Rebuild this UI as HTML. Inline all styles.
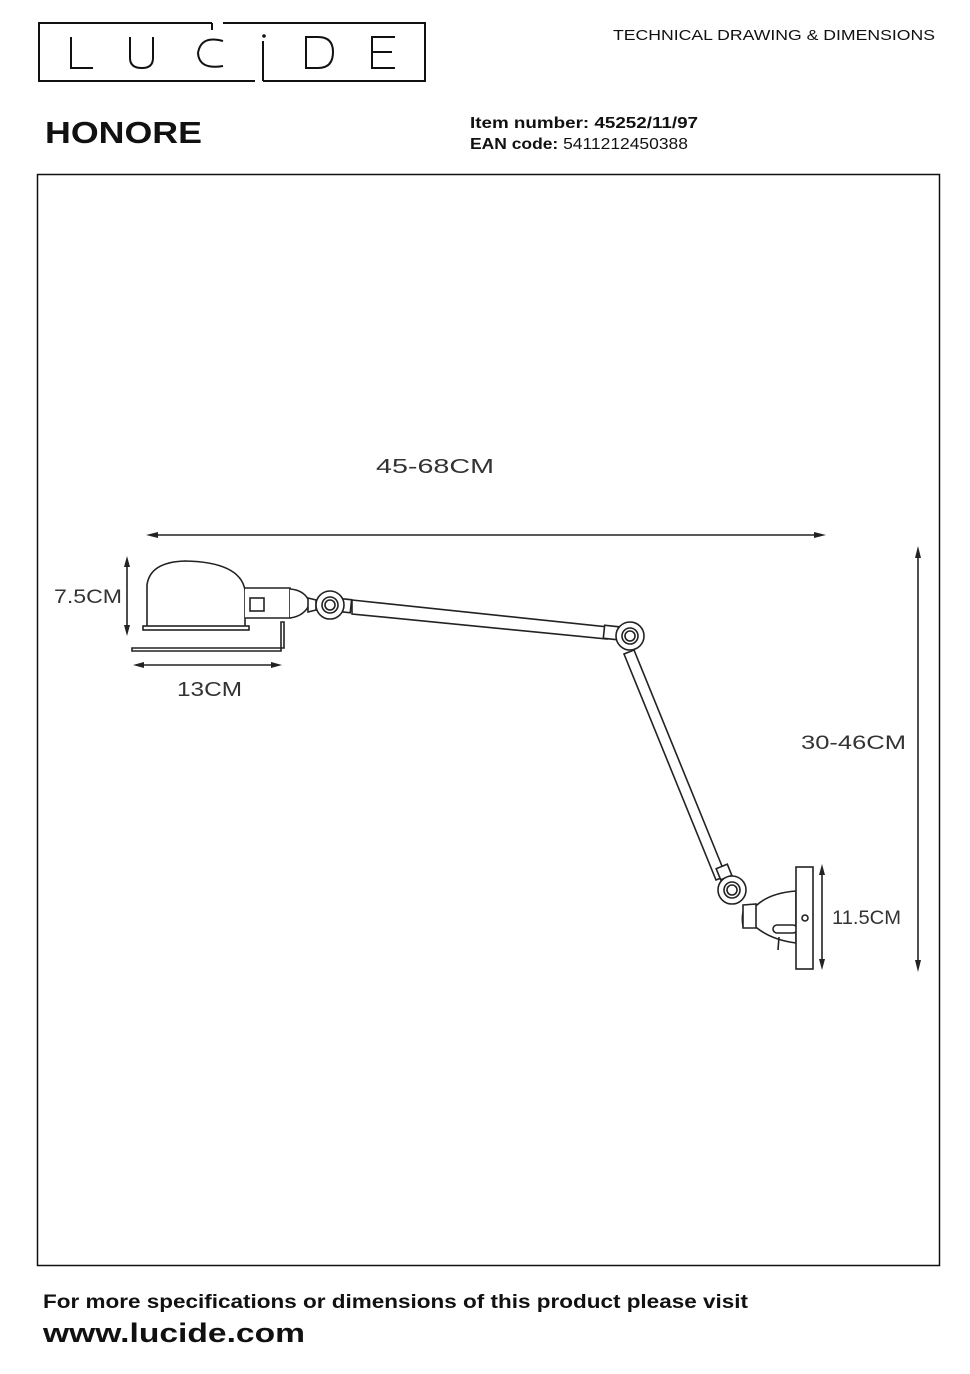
<!DOCTYPE html>
<html><head><meta charset="utf-8"><style>
html,body{margin:0;padding:0;background:#fff;}
svg{display:block;}
text{font-family:"Liberation Sans",sans-serif;}
</style></head><body>
<svg width="970" height="1374" viewBox="0 0 970 1374" xmlns="http://www.w3.org/2000/svg">
<!-- logo -->
<g fill="none" stroke="#111" stroke-width="2">
<path d="M212,23 H39 V81 H255"/>
<path d="M223,23 H425 V81 H263"/>
<path d="M212,23 V30"/>
<path d="M263,81 V41"/>
<path d="M71,37 V68 H93"/>
<path d="M130,37 V58 Q130,68 142,68 Q153,68 153,58 V37"/>
<path d="M223,41 Q201,35 198,53 Q199,70 223,66"/>
<path d="M306,37 V68 H318 Q333,68 333,52 Q333,37 318,37 Z"/>
<path d="M395,37 H372 V68 H395 M372,52 H392"/>
</g>
<circle cx="264" cy="36" r="1.8" fill="#111"/>
<text x="613" y="40" font-size="15" fill="#111" textLength="322" lengthAdjust="spacingAndGlyphs">TECHNICAL DRAWING &amp; DIMENSIONS</text>
<text x="45" y="143" font-size="31" font-weight="bold" fill="#111" textLength="157" lengthAdjust="spacingAndGlyphs">HONORE</text>
<text x="470" y="128" font-size="15.5" font-weight="bold" fill="#111" textLength="228" lengthAdjust="spacingAndGlyphs">Item number: 45252/11/97</text>
<text x="470" y="149" font-size="15.5" fill="#111" textLength="218" lengthAdjust="spacingAndGlyphs"><tspan font-weight="bold">EAN code:</tspan> 5411212450388</text>
<rect x="37.5" y="174.5" width="902" height="1091" fill="none" stroke="#111" stroke-width="1.5"/>

<g stroke="#222" fill="none" stroke-width="1.6">
<line x1="150" y1="535" x2="822" y2="535"/>
<line x1="918" y1="550" x2="918" y2="968"/>
<line x1="127" y1="560" x2="127" y2="632"/>
<line x1="137" y1="665" x2="278" y2="665"/>
<line x1="822" y1="868" x2="822" y2="966"/>
</g>
<g fill="#222">
<path d="M146,535 l12,-3 v6z"/><path d="M826,535 l-12,-3 v6z"/>
<path d="M918,546 l-3,12 h6z"/><path d="M918,972 l-3,-12 h6z"/>
<path d="M127,556 l-3,11 h6z"/><path d="M127,636 l-3,-11 h6z"/>
<path d="M133,665 l11,-3 v6z"/><path d="M282,665 l-11,-3 v6z"/>
<path d="M822,864 l-3,11 h6z"/><path d="M822,970 l-3,-11 h6z"/>
</g>
<text x="376" y="473" font-size="20" fill="#333" textLength="118" lengthAdjust="spacingAndGlyphs">45-68CM</text>
<text x="54" y="603" font-size="19" fill="#333" textLength="68" lengthAdjust="spacingAndGlyphs">7.5CM</text>
<text x="177" y="696" font-size="20" fill="#333" textLength="65" lengthAdjust="spacingAndGlyphs">13CM</text>
<text x="801" y="749" font-size="19" fill="#333" textLength="105" lengthAdjust="spacingAndGlyphs">30-46CM</text>
<text x="832" y="924" font-size="19" fill="#333" textLength="69" lengthAdjust="spacingAndGlyphs">11.5CM</text>

<g stroke="#222" fill="#fff" stroke-width="1.6">
<path d="M147,627 V585 Q150,562 185,561 Q240,562 245,590 V627 Z"/>
<rect x="143" y="626" width="106" height="4"/>
<path d="M132,648 H284 V622 H281 V651 H132 Z"/>
<path d="M245,588 H290 V618 H245"/>
<rect x="250" y="598" width="14" height="13"/>
<path d="M290,589 Q305,590 310,603 Q305,616 290,618"/>
<path d="M308,598 L316,600 V610 L308,612Z"/>
<path d="M352,600 L608,627 L607,639 L352,614 Z"/>
<rect x="337" y="599" width="14" height="13" transform="rotate(6 344 605)"/>
<circle cx="330" cy="605" r="14"/>
<circle cx="330" cy="605" r="8"/>
<circle cx="330" cy="605" r="5"/>
<path d="M634,650 L726,876 L716,880 L624,654 Z"/>
<rect x="604" y="626" width="14" height="13" transform="rotate(6 611 632)"/>
<rect x="718" y="866" width="12" height="12" transform="rotate(-22 724 872)"/>
<circle cx="630" cy="636" r="14"/>
<circle cx="630" cy="636" r="8"/>
<circle cx="630" cy="636" r="5"/>
<path d="M796,891 Q770,893 757,905 L745,906 Q741,915 743,926 L757,928 Q772,940 796,943 Z"/>
<path d="M743,905 L756,904 V928 L743,928 Z"/>
<rect x="773" y="925" width="24" height="8" rx="4"/>
<path d="M779,937 L778,950"/>
<rect x="796" y="867" width="17" height="102"/>
<circle cx="805" cy="918" r="3"/>
<circle cx="732" cy="890" r="14"/>
<circle cx="732" cy="890" r="8"/>
<circle cx="732" cy="890" r="5"/>
</g>

<text x="43" y="1308" font-size="19" font-weight="bold" fill="#111" textLength="705" lengthAdjust="spacingAndGlyphs">For more specifications or dimensions of this product please visit</text>
<text x="43" y="1342" font-size="27" font-weight="bold" fill="#111" textLength="262" lengthAdjust="spacingAndGlyphs">www.lucide.com</text>
</svg>
</body></html>
